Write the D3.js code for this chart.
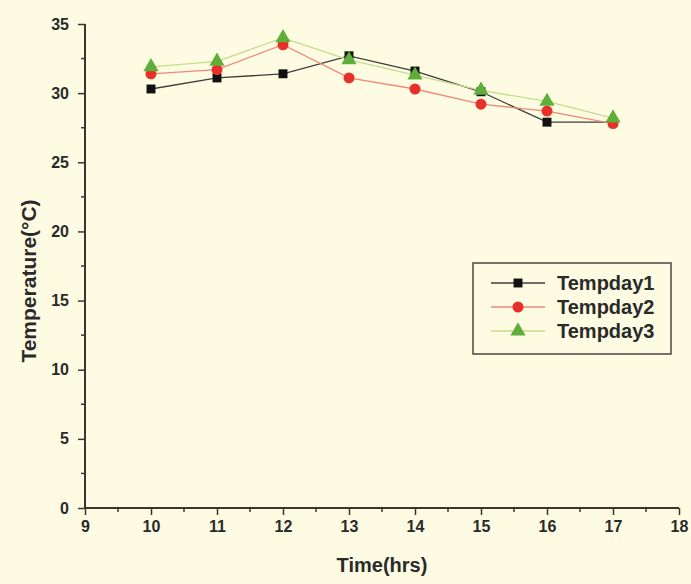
<!DOCTYPE html>
<html>
<head>
<meta charset="utf-8">
<script src="https://cdn.jsdelivr.net/npm/d3@7"></script>
<style>
  body { margin: 0; background: #fdfce3; }
  svg { display: block; }
  text { font-family: "Liberation Sans", Arial, sans-serif; fill: #2a2a2a; }
</style>
</head>
<body>
<script>
// data
var hours = [10, 11, 12, 13, 14, 15, 16, 17];
var tempDay1 = [30.3, 31.1, 31.4, 32.7, 31.6, 30.1, 27.9, 27.9];
var tempDay2 = [31.4, 31.7, 33.5, 31.1, 30.3, 29.2, 28.7, 27.8];
var tempDay3 = [31.9, 32.3, 34.0, 32.4, 31.3, 30.2, 29.4, 28.2];
var seriesNames = ["Tempday1", "Tempday2", "Tempday3"];
var xTicks = [9, 10, 11, 12, 13, 14, 15, 16, 17, 18];
var yTicks = [0, 5, 10, 15, 20, 25, 30, 35];

var w = 691, h = 584;
var margin = {top: 24, right: 12, bottom: 76, left: 85};

var svg = d3.select("body").append("svg")
            .attr("width", w)
            .attr("height", h);

svg.append("rect").attr("width", w).attr("height", h).attr("fill", "#fdfce3");

var xScale = d3.scaleLinear().domain([9, 18]).range([margin.left, w - margin.right]);
var yScale = d3.scaleLinear().domain([0, 35]).range([h - margin.bottom, margin.top]);

var axisColor = "#3a3530";

// minor ticks
var xMinor = d3.range(9.5, 18, 1);
var yMinor = d3.range(2.5, 35, 5);

var xAxis = d3.axisBottom(xScale).tickValues(xTicks).tickSize(7).tickPadding(6).tickFormat(d3.format("d"));
var yAxis = d3.axisLeft(yScale).tickValues(yTicks).tickSize(7).tickPadding(9).tickFormat(d3.format("d"));

var gx = svg.append("g")
   .attr("transform", "translate(0," + yScale(0) + ")")
   .call(xAxis);
gx.selectAll(".minor").data(xMinor).enter().append("line")
   .attr("x1", function(d) { return xScale(d); })
   .attr("x2", function(d) { return xScale(d); })
   .attr("y1", 0).attr("y2", 4)
   .attr("stroke", axisColor).attr("stroke-width", 1.5);

var gy = svg.append("g")
   .attr("transform", "translate(" + xScale(9) + ",0)")
   .call(yAxis);
gy.selectAll(".minor").data(yMinor).enter().append("line")
   .attr("y1", function(d) { return yScale(d); })
   .attr("y2", function(d) { return yScale(d); })
   .attr("x1", 0).attr("x2", -4)
   .attr("stroke", axisColor).attr("stroke-width", 1.5);

[gx, gy].forEach(function(g) {
  g.select(".domain").attr("stroke", axisColor).attr("stroke-width", 2);
  g.selectAll(".tick line").attr("stroke", axisColor).attr("stroke-width", 1.5);
  g.selectAll(".tick text").style("font-size", "16px").style("font-weight", "bold")
   .attr("fill", "#333");
});
gx.select(".domain").attr("d", "M" + xScale(9) + ",0H" + xScale(18));
gy.select(".domain").attr("d", "M0," + yScale(0) + "V" + yScale(35));

// axis titles
svg.append("text")
   .attr("x", (xScale(9) + xScale(18)) / 2)
   .attr("y", 572)
   .attr("text-anchor", "middle")
   .style("font-size", "20px")
   .style("font-weight", "bold")
   .text("Time(hrs)");

svg.append("text")
   .attr("transform", "translate(36,281) rotate(-90)")
   .attr("text-anchor", "middle")
   .style("font-size", "21px")
   .style("font-weight", "bold")
   .text("Temperature(°C)");

var series = [
  {name: seriesNames[0], values: tempDay1, line: "#3c3c3c", fill: "#111111", shape: d3.symbolSquare, size: 80},
  {name: seriesNames[1], values: tempDay2, line: "#f08878", fill: "#e8302a", shape: d3.symbolCircle, size: 95},
  {name: seriesNames[2], values: tempDay3, line: "#c4dc8c", fill: "#5fae3a", shape: d3.symbolTriangle, size: 100}
];

var line = d3.line()
   .x(function(d, i) { return xScale(hours[i]); })
   .y(function(d) { return yScale(d); });

series.forEach(function(s) {
  svg.append("path")
     .datum(s.values)
     .attr("d", line)
     .attr("fill", "none")
     .attr("stroke", s.line)
     .attr("stroke-width", 1.3);
});

series.forEach(function(s) {
  svg.selectAll(null)
     .data(s.values)
     .enter()
     .append("path")
     .attr("d", d3.symbol().type(s.shape).size(s.size))
     .attr("transform", function(d, i) { return "translate(" + xScale(hours[i]) + "," + yScale(d) + ")"; })
     .attr("fill", s.fill);
});

// legend
var legend = svg.append("g").attr("transform", "translate(473,263)");
legend.append("rect")
   .attr("width", 198).attr("height", 91)
   .attr("fill", "none")
   .attr("stroke", "#4a4540")
   .attr("stroke-width", 1.5);

series.forEach(function(s, i) {
  var y = 20 + i * 24;
  legend.append("line")
     .attr("x1", 18).attr("x2", 72).attr("y1", y).attr("y2", y)
     .attr("stroke", s.line).attr("stroke-width", 1.3);
  legend.append("path")
     .attr("d", d3.symbol().type(s.shape).size(s.size))
     .attr("transform", "translate(45," + y + ")")
     .attr("fill", s.fill);
  legend.append("text")
     .attr("x", 84).attr("y", y + 7)
     .style("font-size", "20px")
     .style("font-weight", "bold")
     .text(s.name);
});
</script>
</body>
</html>
